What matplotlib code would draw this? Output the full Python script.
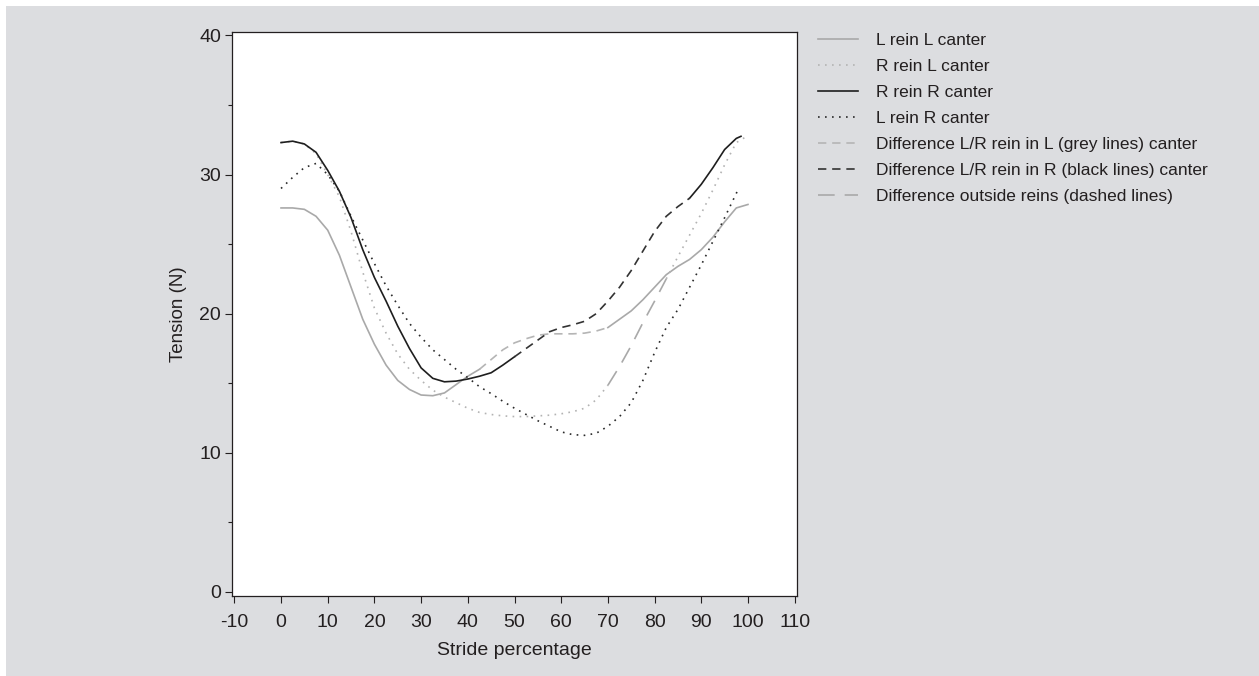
import matplotlib
matplotlib.use("Agg")
import matplotlib.pyplot as plt
from matplotlib.patches import Rectangle
import numpy as np

plt.rcParams['font.family'] = ['Liberation Sans', 'DejaVu Sans']
plt.rcParams['axes.unicode_minus'] = False

# Stride positions (%) at which the curves were read
stride = [0, 2.5, 5, 7.5, 10, 12.5, 15, 17.5, 20, 22.5, 25, 27.5, 30, 32.5, 35,
          37.5, 40, 42.5, 45, 47.5, 50, 52.5, 55, 57.5, 60, 62.5, 65, 67.5, 70,
          72.5, 75, 77.5, 80, 82.5, 85, 87.5, 90, 92.5, 95, 97.5, 100]

l_rein_l_canter = [27.6, 27.6, 27.5, 27.0, 26.0, 24.2, 21.9, 19.6, 17.8, 16.3, 15.2,
                   14.55, 14.15, 14.1, 14.3, 14.9, 15.5, 16.0, 16.7, 17.4, 17.9, 18.2,
                   18.45, 18.55, 18.55, 18.55, 18.6, 18.75, 19.0, 19.6, 20.2, 21.0,
                   21.9, 22.8, 23.4, 23.9, 24.6, 25.5, 26.6, 27.6, 27.85]

r_rein_l_canter = [32.3, 32.4, 32.2, 31.5, 30.0, 28.4, 25.9, 23.0, 20.4, 18.6, 17.1,
                   16.0, 15.2, 14.5, 14.0, 13.6, 13.2, 12.9, 12.75, 12.65, 12.6, 12.6,
                   12.65, 12.7, 12.8, 12.95, 13.2, 13.8, 14.85, 16.2, 17.7, 19.35,
                   20.9, 22.5, 24.1, 25.65, 27.2, 28.9, 30.7, 32.3, 32.8]

stride_rr = stride[:-1] + [98.5]
r_rein_r_canter = [32.3, 32.4, 32.2, 31.6, 30.3, 28.8, 26.9, 24.6, 22.6, 20.9, 19.1,
                   17.5, 16.1, 15.35, 15.1, 15.15, 15.3, 15.5, 15.75, 16.3, 16.9, 17.5,
                   18.1, 18.7, 19.0, 19.2, 19.45, 20.0, 20.9, 21.9, 23.1, 24.5, 25.9,
                   27.0, 27.7, 28.3, 29.3, 30.5, 31.8, 32.6, 32.75]

stride_lr = stride[:-2] + [98]
l_rein_r_canter = [29.0, 29.8, 30.5, 30.8, 30.0, 28.8, 27.0, 25.3, 23.6, 22.0, 20.6,
                   19.3, 18.3, 17.4, 16.7, 16.0, 15.4, 14.75, 14.25, 13.7, 13.2, 12.75,
                   12.3, 11.9, 11.5, 11.3, 11.25, 11.4, 11.9, 12.6, 13.6, 15.2, 17.2,
                   19.0, 20.3, 21.9, 23.5, 25.2, 26.9, 29.0]

# stride ranges where the differences are marked (dashed segments)
diff_l_range = (42.5, 70)
diff_r_range = (50, 87.5)
diff_out_range = (70, 82.5)

labels = ["L rein L canter", "R rein L canter", "R rein R canter", "L rein R canter",
          "Difference L/R rein in L (grey lines) canter",
          "Difference L/R rein in R (black lines) canter",
          "Difference outside reins (dashed lines)"]

GREY = "#a9a9a9"
GREY_DOT = "#b3b3b3"
BLACK = "#1e1e1e"
TXT = "#231f20"


def seg(x, y, lo, hi):
    x = np.asarray(x, float)
    y = np.asarray(y, float)
    m = (x >= lo) & (x <= hi)
    return x[m], y[m]


fig = plt.figure(figsize=(12.59, 6.76), dpi=100, facecolor="white")
fig.patches.append(Rectangle((6 / 1259, 0), 1, 1 - 6 / 676, transform=fig.transFigure,
                             facecolor="#dcdde0", edgecolor="none", zorder=-10))
ax = fig.add_axes([232 / 1259, 80 / 676, 565 / 1259, 564 / 676])
ax.set_facecolor("white")

lw = 1.2
dot = (0, (1, 3.2))
mid_dash = (0, (5, 3.5))
long_dash = (0, (10, 6))

# L rein L canter: grey solid, grey dashed where L/R differ
h1, = ax.plot(*seg(stride, l_rein_l_canter, 0, diff_l_range[0]), color=GREY, lw=lw)
ax.plot(*seg(stride, l_rein_l_canter, diff_l_range[1], 100), color=GREY, lw=lw)
h5, = ax.plot(*seg(stride, l_rein_l_canter, *diff_l_range), color="#b5b5b5", lw=lw,
              linestyle=mid_dash)

# R rein L canter: grey dotted, long dash where outside reins differ
h2, = ax.plot(*seg(stride, r_rein_l_canter, 0, diff_out_range[0]), color=GREY_DOT, lw=lw,
              linestyle=dot)
ax.plot(*seg(stride, r_rein_l_canter, diff_out_range[1], 100), color=GREY_DOT, lw=lw,
        linestyle=dot)
h7, = ax.plot(*seg(stride, r_rein_l_canter, *diff_out_range), color=GREY, lw=lw,
              linestyle=long_dash)

# R rein R canter: black solid, black dashed where L/R differ
h3, = ax.plot(*seg(stride_rr, r_rein_r_canter, 0, diff_r_range[0]), color=BLACK, lw=lw)
ax.plot(*seg(stride_rr, r_rein_r_canter, diff_r_range[1], 100), color=BLACK, lw=lw)
h6, = ax.plot(*seg(stride_rr, r_rein_r_canter, *diff_r_range), color="#333333", lw=lw,
              linestyle=mid_dash)

# L rein R canter: black dotted
h4, = ax.plot(stride_lr, l_rein_r_canter, color="#2a2a2a", lw=lw, linestyle=dot)

ax.set_xlim(-10.5, 110.5)
ax.set_ylim(-0.3, 40.25)
ax.set_xticks(np.arange(-10, 111, 10))
ax.set_yticks(np.arange(0, 41, 10))
ax.set_yticks(np.arange(5, 40, 10), minor=True)
ax.tick_params(axis="both", which="major", direction="out", length=5, width=0.8,
               colors=TXT, labelsize=14)
ax.tick_params(axis="x", which="major", pad=8)
ax.tick_params(axis="y", which="major", pad=3)
ax.tick_params(axis="y", which="minor", direction="out", length=3, width=0.8, colors=TXT)
for s in ax.spines.values():
    s.set_color(TXT)
    s.set_linewidth(0.9)
ax.set_xlabel("Stride percentage", fontsize=14, color=TXT, labelpad=8)
ax.set_ylabel("Tension (N)", fontsize=13.5, color=TXT, labelpad=9)

handles = [h1, h2, h3, h4, h5, h6, h7]
fig.legend(handles, labels, loc="upper left", bbox_to_anchor=(818 / 1259, 1 - 33 / 676),
           frameon=False, fontsize=12.5, handlelength=2.3, handletextpad=1.05,
           labelspacing=0.62, borderpad=0, borderaxespad=0, labelcolor=TXT)

fig.savefig("out.png", dpi=100, facecolor=fig.get_facecolor())
